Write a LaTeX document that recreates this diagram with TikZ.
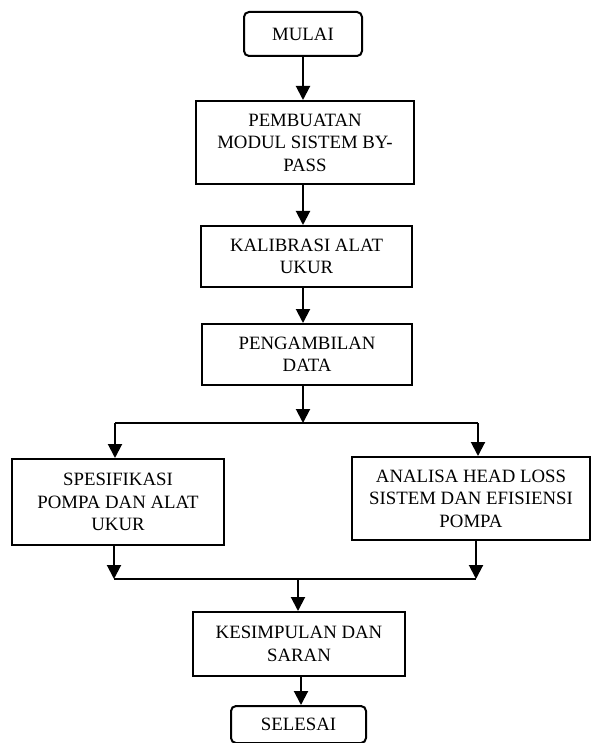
\documentclass[tikz,border=0pt]{standalone}
\usepackage{fontspec}
\setmainfont{Liberation Serif}
\usetikzlibrary{arrows.meta}
\begin{document}
\begin{tikzpicture}[x=1pt,y=-1pt,
  box/.style={draw,line width=2pt,inner sep=0pt,align=center,font=\fontsize{18.8}{22.5}\selectfont},
  term/.style={box,rounded corners=5pt},
  conn/.style={line width=2pt,-{Triangle[length=14pt,width=14pt]}},
  seg/.style={line width=2pt}]
\useasboundingbox (0,0) rectangle (592,743);
\node[term,minimum width=118pt,minimum height=44pt] (mulai) at (303,34) {MULAI};
\node[box,minimum width=218pt,minimum height=83pt] (pemb) at (305,142.5) {PEMBUATAN\\MODUL SISTEM BY-\\PASS};
\node[box,minimum width=211pt,minimum height=61pt] (kal) at (306.5,256.5) {KALIBRASI ALAT\\UKUR};
\node[box,minimum width=210pt,minimum height=61pt] (peng) at (307,354.5) {PENGAMBILAN\\DATA};
\node[box,minimum width=212pt,minimum height=86pt] (spes) at (118,502) {SPESIFIKASI\\POMPA DAN ALAT\\UKUR};
\node[box,minimum width=238pt,minimum height=83pt] (anal) at (471,498.5) {ANALISA HEAD LOSS\\SISTEM DAN EFISIENSI\\POMPA};
\node[box,minimum width=212pt,minimum height=64pt] (kes) at (299,644) {KESIMPULAN DAN\\SARAN};
\node[term,minimum width=135pt,minimum height=37pt] (sel) at (298.5,724.5) {SELESAI};
\coordinate (j1) at (303,423);
\coordinate (j1l) at (115,423);
\coordinate (j1r) at (478,423);
\coordinate (j2l) at (114,579);
\coordinate (j2r) at (476,579);
\coordinate (j2) at (298,579);
\draw[conn] (mulai.south) -- (mulai.south |- pemb.north);
\draw[conn] (pemb.south -| mulai.south) -- (mulai.south |- kal.north);
\draw[conn] (kal.south -| mulai.south) -- (mulai.south |- peng.north);
\draw[conn] (peng.south -| j1) -- (j1);
\draw[seg] (j1l) -- (j1r);
\draw[conn] (j1l) -- (j1l |- spes.north);
\draw[conn] (j1r) -- (j1r |- anal.north);
\draw[conn] (spes.south -| j2l) -- (j2l);
\draw[conn] (anal.south -| j2r) -- (j2r);
\draw[seg] (j2l) -- (j2r);
\draw[conn] (j2) -- (j2 |- kes.north);
\draw[conn] (kes.south -| 301,0) -- (sel.north -| 301,0);
\end{tikzpicture}
\end{document}
